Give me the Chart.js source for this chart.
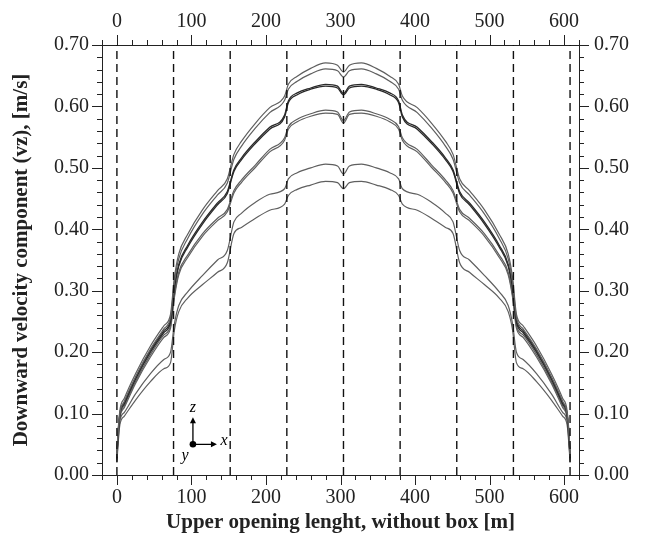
<!DOCTYPE html>
<html lang="en">
<head>
<meta charset="utf-8" />
<title>Downward velocity component</title>
<script src="https://cdn.jsdelivr.net/npm/chart.js@4.4.0/dist/chart.umd.min.js"></script>
<style>
  body { margin: 0; background: #fff; }
  #wrap { width: 651px; height: 539px; }
</style>
</head>
<body>
<div id="wrap"><canvas id="chart" width="651" height="539"></canvas></div>
<script>
// distance along the upper opening [m]
var xs = [0,1,4,10,25,45,63,72,77,83,95,115,135,148,157,167,186,205,225,230,242,260,280,296,304,
          312,328,348,366,378,383,403,422,441,451,460,473,493,513,525,531,536,545,563,583,598,604,607,608];

// vz [m/s]
var vzA1 = [0.03,0.06,0.105,0.125,0.165,0.21,0.243,0.262,0.32,0.36,0.392,0.432,0.463,0.482,0.522,0.543,0.573,0.598,0.617,0.636,0.649,0.662,0.671,0.667,0.656,
            0.667,0.671,0.662,0.649,0.636,0.617,0.598,0.573,0.543,0.522,0.482,0.463,0.432,0.392,0.36,0.32,0.262,0.243,0.21,0.165,0.125,0.105,0.06,0.03];
var vzA2 = [0.03,0.058,0.1,0.12,0.16,0.205,0.238,0.257,0.313,0.352,0.385,0.425,0.456,0.475,0.514,0.535,0.565,0.59,0.61,0.628,0.641,0.653,0.661,0.658,0.648,
            0.658,0.661,0.653,0.641,0.628,0.61,0.59,0.565,0.535,0.514,0.475,0.456,0.425,0.385,0.352,0.313,0.257,0.238,0.205,0.16,0.12,0.1,0.058,0.03];
var vzB1 = [0.028,0.055,0.1,0.118,0.158,0.203,0.235,0.252,0.305,0.343,0.374,0.412,0.443,0.461,0.497,0.516,0.543,0.566,0.586,0.609,0.622,0.63,0.636,0.633,0.621,
            0.633,0.636,0.63,0.622,0.609,0.586,0.566,0.543,0.516,0.497,0.461,0.443,0.412,0.374,0.343,0.305,0.252,0.235,0.203,0.158,0.118,0.1,0.055,0.028];
var vzB2 = [0.027,0.054,0.098,0.116,0.156,0.2,0.232,0.249,0.302,0.34,0.371,0.409,0.44,0.458,0.494,0.513,0.54,0.563,0.583,0.606,0.619,0.628,0.633,0.63,0.619,
            0.63,0.633,0.628,0.619,0.606,0.583,0.563,0.54,0.513,0.494,0.458,0.44,0.409,0.371,0.34,0.302,0.249,0.232,0.2,0.156,0.116,0.098,0.054,0.027];
var vzC1 = [0.025,0.05,0.095,0.113,0.152,0.196,0.228,0.243,0.292,0.33,0.358,0.393,0.418,0.432,0.463,0.48,0.505,0.53,0.549,0.567,0.579,0.588,0.594,0.591,0.577,
            0.591,0.594,0.588,0.579,0.567,0.549,0.53,0.505,0.48,0.463,0.432,0.418,0.393,0.358,0.33,0.292,0.243,0.228,0.196,0.152,0.113,0.095,0.05,0.025];
var vzC2 = [0.024,0.048,0.093,0.11,0.149,0.192,0.224,0.239,0.288,0.326,0.354,0.389,0.414,0.428,0.459,0.476,0.501,0.526,0.545,0.563,0.575,0.584,0.589,0.587,0.573,
            0.587,0.589,0.584,0.575,0.563,0.545,0.526,0.501,0.476,0.459,0.428,0.414,0.389,0.354,0.326,0.288,0.239,0.224,0.192,0.149,0.11,0.093,0.048,0.024];
var vzD1 = [0.022,0.045,0.088,0.102,0.132,0.165,0.188,0.2,0.245,0.276,0.298,0.325,0.35,0.365,0.412,0.426,0.444,0.457,0.466,0.482,0.492,0.5,0.506,0.503,0.49,
            0.503,0.506,0.5,0.492,0.482,0.466,0.457,0.444,0.426,0.412,0.365,0.35,0.325,0.298,0.276,0.245,0.2,0.188,0.165,0.132,0.102,0.088,0.045,0.022];
var vzD2 = [0.02,0.04,0.082,0.096,0.122,0.152,0.173,0.183,0.235,0.266,0.288,0.31,0.33,0.345,0.393,0.403,0.418,0.431,0.441,0.455,0.465,0.472,0.478,0.476,0.466,
            0.476,0.478,0.472,0.465,0.455,0.441,0.431,0.418,0.403,0.393,0.345,0.33,0.31,0.288,0.266,0.235,0.183,0.173,0.152,0.122,0.096,0.082,0.04,0.02];

// box boundaries (dashed lines)
var boxLines = [0,76,152,228,304,380,456,532,608];

var xTicks = [0,100,200,300,400,500,600];
var yTicks = [0,0.1,0.2,0.3,0.4,0.5,0.6,0.7];
var xMinor = 20, yMinor = 0.02;

var serif = "'Liberation Serif', 'DejaVu Serif', serif";

function pts(ys) {
    return xs.map(function (x, i) { return { x: x, y: ys[i] }; });
}

function curve(ys, col, w) {
    return { data: pts(ys), borderColor: col, borderWidth: w, pointRadius: 0,
             fill: false, cubicInterpolationMode: 'monotone' };
}

var datasets = [];
boxLines.forEach(function (v) {
    datasets.push({ data: [{ x: v, y: 0 }, { x: v, y: 0.7 }], borderColor: '#111', borderWidth: 1.4,
                    borderDash: [8, 5], pointRadius: 0, fill: false });
});
datasets.push(curve(vzA1, '#5f5f5f', 1.2));
datasets.push(curve(vzA2, '#5f5f5f', 1.2));
datasets.push(curve(vzB1, '#2a2a2a', 1.3));
datasets.push(curve(vzB2, '#2a2a2a', 1.3));
datasets.push(curve(vzC1, '#5f5f5f', 1.2));
datasets.push(curve(vzC2, '#5f5f5f', 1.2));
datasets.push(curve(vzD1, '#5f5f5f', 1.2));
datasets.push(curve(vzD2, '#5f5f5f', 1.2));

function setTicks(list) {
    return function (axis) { axis.ticks = list.map(function (v) { return { value: v }; }); };
}

function xAxis(pos, size, title) {
    return {
        type: 'linear', position: pos, min: -20, max: 620,
        grid: { drawOnChartArea: false, drawTicks: false },
        border: { display: true, color: '#222', width: 1 },
        ticks: { font: { family: serif, size: 20 }, color: '#222', padding: 11, maxRotation: 0 },
        afterBuildTicks: setTicks(xTicks),
        afterFit: function (s) { s.height = size; },
        title: title ? { display: true, text: title, color: '#222',
                         font: { family: serif, size: 21, weight: 'bold' }, padding: { top: 0, bottom: 4 } }
                     : { display: false }
    };
}

function yAxis(pos, size, pad, title) {
    return {
        type: 'linear', position: pos, min: 0, max: 0.7,
        grid: { drawOnChartArea: false, drawTicks: false },
        border: { display: true, color: '#222', width: 1 },
        ticks: { font: { family: serif, size: 20 }, color: '#222', padding: pad,
                 callback: function (v) { return v.toFixed(2); } },
        afterBuildTicks: setTicks(yTicks),
        afterFit: function (s) { s.width = size; },
        title: title ? { display: true, text: title, color: '#222',
                         font: { family: serif, size: 21, weight: 'bold' }, padding: { top: 9, bottom: 0 } }
                     : { display: false }
    };
}

// outward major/minor tick marks on all four sides
var tickMarks = {
    id: 'tickMarks',
    afterDraw: function (chart) {
        var c = chart.ctx, s = chart.scales;
        c.save();
        c.strokeStyle = '#222';
        c.lineWidth = 1;
        c.beginPath();
        for (var v = -20; v <= 620; v += xMinor) {
            var len = (v % 100 === 0) ? 10 : 5;
            var px = Math.round(s.x.getPixelForValue(v)) + 0.5;
            c.moveTo(px, s.x.top); c.lineTo(px, s.x.top + len);
            c.moveTo(px, s.x2.bottom); c.lineTo(px, s.x2.bottom - len);
        }
        for (var k = 0; k <= 35; k++) {
            var val = k * yMinor;
            var l = (k % 5 === 0) ? 10 : 5;
            var py = Math.round(s.y.getPixelForValue(val)) + 0.5;
            c.moveTo(s.y.right, py); c.lineTo(s.y.right - l, py);
            c.moveTo(s.y2.left, py); c.lineTo(s.y2.left + l, py);
        }
        c.stroke();
        c.restore();
    }
};

// small coordinate-system glyph inside the plot
var axesGlyph = {
    id: 'axesGlyph',
    afterDatasetsDraw: function (chart) {
        var c = chart.ctx, s = chart.scales;
        var ox = s.x.getPixelForValue(102), oy = s.y.getPixelForValue(0.05);
        c.save();
        c.strokeStyle = '#000'; c.fillStyle = '#000'; c.lineWidth = 1.3;
        c.beginPath(); c.arc(ox, oy, 3.3, 0, Math.PI * 2); c.fill();
        c.beginPath(); c.moveTo(ox, oy); c.lineTo(ox, oy - 22); c.moveTo(ox, oy); c.lineTo(ox + 19, oy); c.stroke();
        c.beginPath(); c.moveTo(ox, oy - 27); c.lineTo(ox - 3, oy - 21); c.lineTo(ox + 3, oy - 21); c.closePath(); c.fill();
        c.beginPath(); c.moveTo(ox + 24, oy); c.lineTo(ox + 18, oy - 3); c.lineTo(ox + 18, oy + 3); c.closePath(); c.fill();
        c.font = "italic 16px " + serif;
        c.textAlign = 'center'; c.textBaseline = 'middle';
        c.fillText('z', ox, oy - 36);
        c.fillText('x', ox + 31, oy - 3);
        c.fillText('y', ox - 8, oy + 12);
        c.restore();
    }
};

var ctx = document.getElementById('chart').getContext('2d');
var chart = new Chart(ctx, {
    type: 'line',
    data: { datasets: datasets },
    options: {
        responsive: false,
        animation: false,
        parsing: false,
        layout: { padding: 0 },
        plugins: { legend: { display: false }, tooltip: { enabled: false } },
        scales: {
            x: xAxis('bottom', 64, 'Upper opening lenght, without box [m]'),
            x2: xAxis('top', 45, null),
            y: yAxis('left', 102, 13, 'Downward velocity component (vz), [m/s]'),
            y2: yAxis('right', 72, 15, null)
        }
    },
    plugins: [tickMarks, axesGlyph]
});
</script>
</body>
</html>
